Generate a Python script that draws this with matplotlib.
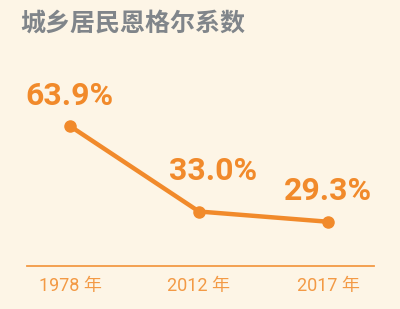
import matplotlib
matplotlib.use("Agg")
import matplotlib.pyplot as plt
from matplotlib import font_manager

categories = ["1978 年", "2012 年", "2017 年"]
values = [63.9, 33.0, 29.3]
value_labels = ["63.9%", "33.0%", "29.3%"]
title = "城乡居民恩格尔系数"

names = {f.name for f in font_manager.fontManager.ttflist}
narrow = "Roboto" if "Roboto" in names else "Liberation Sans"

BG = "#FDF5E6"
ORANGE = "#F18A2B"
LIGHT_ORANGE = "#F39A45"
GRAY = "#80858A"

fig = plt.figure(figsize=(4.0, 3.09), dpi=100, facecolor=BG)
W, H = 400, 309
ax = fig.add_axes([27 / W, 43 / H, (374 - 27) / W, (266 - 40) / H])
ax.set_facecolor(BG)

x = list(range(len(categories)))
ax.plot(x, values, color=ORANGE, lw=3.2, marker="o", ms=8, solid_capstyle="round", zorder=3)

ax.set_xlim(-0.333, 2.357)
ax.set_ylim(13.3, 95.0)

for s in ["top", "left", "right"]:
    ax.spines[s].set_visible(False)
ax.spines["bottom"].set_color(LIGHT_ORANGE)
ax.spines["bottom"].set_linewidth(1.3)
ax.set_yticks([])
ax.set_xticks(x)
ax.set_xticklabels(categories, family=[narrow, "Noto Sans CJK SC"], fontsize=13, color=LIGHT_ORANGE)
ax.tick_params(axis="x", length=0, pad=8)

offsets = [(-1, 30), (14, 41), (0, 31)]
for xi, v, lab, (dx, dy) in zip(x, values, value_labels, offsets):
    ax.annotate(lab, (xi, v), xytext=(dx * 0.72, dy * 0.72), textcoords="offset points",
                ha="center", va="center", fontsize=23, fontweight="bold",
                family=[narrow, "DejaVu Sans"], color=ORANGE)

fig.text(20 / W, 1 - 24 / H, title, family=["Noto Sans CJK SC", "DejaVu Sans"], fontsize=18,
         fontweight="bold", color=GRAY, ha="left", va="center")

fig.savefig("out.png", dpi=100, facecolor=BG)
